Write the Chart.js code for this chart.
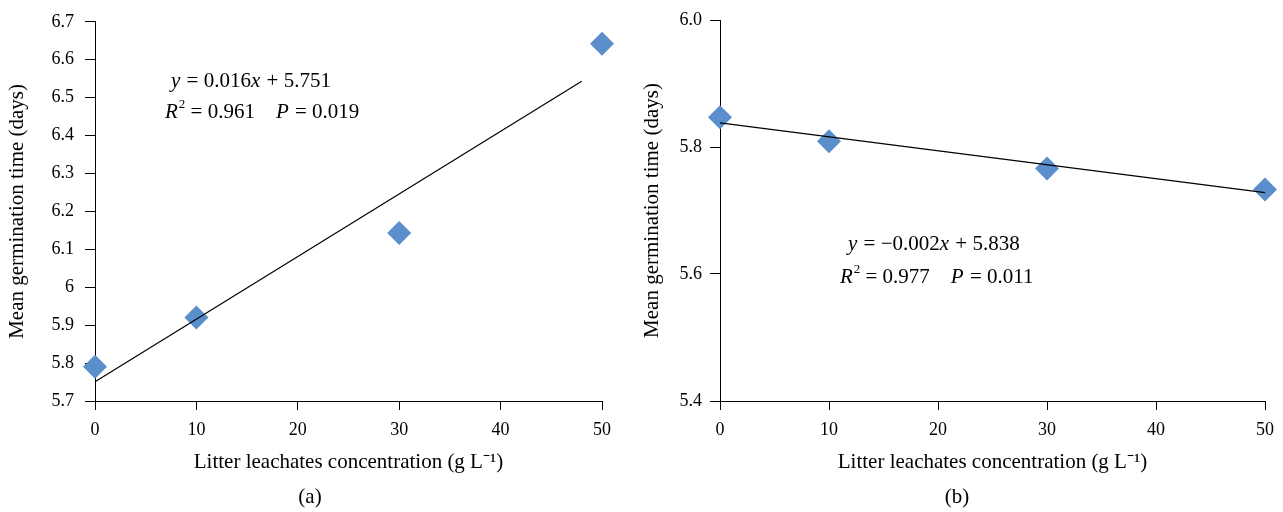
<!DOCTYPE html>
<html><head><meta charset="utf-8">
<script src="https://cdn.jsdelivr.net/npm/chart.js@4"></script>
<style>
html,body{margin:0;padding:0;background:#fff;width:1283px;height:512px;overflow:hidden}
#wa{position:absolute;left:0;top:0;width:640px;height:512px}
#wb{position:absolute;left:640px;top:0;width:643px;height:512px}
</style></head><body>
<div id="wa"><canvas id="ca" width="640" height="512"></canvas></div>
<div id="wb"><canvas id="cb" width="643" height="512"></canvas></div>
<script>
// ---- data ----
const concentrations = [0, 10, 30, 50];
const mgtA = [5.79, 5.92, 6.143, 6.642];
const mgtB = [5.847, 5.809, 5.766, 5.733];
const trendAx = [0, 48];
const trendAy = [5.751, 6.543];
const trendBx = [0, 50];
const trendBy = [5.838, 5.728];
const xTickLabels = ['0', '10', '20', '30', '40', '50'];
const yTickLabelsA = ['5.7', '5.8', '5.9', '6', '6.1', '6.2', '6.3', '6.4', '6.5', '6.6', '6.7'];
const yTickLabelsB = ['5.4', '5.6', '5.8', '6.0'];
const xTitle = 'Litter leachates concentration (g L\u207B\u00B9)';
const yTitle = 'Mean germination time (days)';
const eqA1 = [{t:'y', i:true}, {t:' = 0.016'}, {t:'x', i:true}, {t:' + 5.751'}];
const eqA2 = [{t:'R', i:true}, {t:'2', sup:true}, {t:' = 0.961    '}, {t:'P', i:true}, {t:' = 0.019'}];
const eqB1 = [{t:'y', i:true}, {t:' = \u22120.002'}, {t:'x', i:true}, {t:' + 5.838'}];
const eqB2 = [{t:'R', i:true}, {t:'2', sup:true}, {t:' = 0.977    '}, {t:'P', i:true}, {t:' = 0.011'}];
const captionA = '(a)';
const captionB = '(b)';

const FONT = '"Liberation Serif", "Times New Roman", serif';
const MARKER = '#5a8fcc';

const richText = {
  id: 'richText',
  afterDraw(chart, args, opts) {
    const ctx = chart.ctx, xs = chart.scales.x, ys = chart.scales.y;
    ctx.save();
    ctx.fillStyle = '#000';
    ctx.textBaseline = 'middle';
    ctx.textAlign = 'left';
    for (const line of opts.lines) {
      let x = xs.getPixelForValue(line.x);
      const y = ys.getPixelForValue(line.y);
      for (const s of line.segs) {
        const size = s.sup ? opts.size * 0.62 : opts.size;
        ctx.font = (s.i ? 'italic ' : '') + size + 'px ' + FONT;
        ctx.fillText(s.t, x, s.sup ? y - opts.size * 0.38 : y);
        x += ctx.measureText(s.t).width + (s.i ? 1 : 0);
      }
    }
    if (opts.caption) {
      ctx.font = opts.size + 'px ' + FONT;
      ctx.textAlign = 'center';
      ctx.fillText(opts.caption.text, opts.caption.x, opts.caption.y);
    }
    ctx.restore();
  }
};

function pts(xs, ys) { return xs.map((x, i) => ({x, y: ys[i]})); }

function makeChart(canvas, cfg) {
  const labelsY = cfg.yLabels;
  return new Chart(canvas, {
    type: 'scatter',
    data: {
      datasets: [
        { data: pts(cfg.tx, cfg.ty), showLine: true, borderColor: '#000', borderWidth: 1.2,
          pointRadius: 0, pointHoverRadius: 0, fill: false, clip: false },
        { data: pts(concentrations, cfg.vals), pointStyle: 'rectRot', pointRadius: 12,
          pointHoverRadius: 12, backgroundColor: MARKER, borderWidth: 0, clip: false }
      ]
    },
    options: {
      responsive: false,
      animation: false,
      events: [],
      layout: { padding: { top: 20, right: cfg.padRight, left: 0, bottom: 35 } },
      plugins: {
        legend: { display: false },
        tooltip: { enabled: false },
        richText: { size: 21, lines: cfg.lines, caption: cfg.caption }
      },
      scales: {
        x: {
          type: 'linear', min: 0, max: 50,
          afterFit: s => { s.height = 76; },
          ticks: { stepSize: 10, color: '#000', padding: 9, maxRotation: 0,
                   font: { family: FONT, size: 18 },
                   callback: (v) => xTickLabels[Math.round(v / 10)] },
          grid: { drawOnChartArea: false, drawTicks: true, tickLength: 9, color: '#000', tickColor: '#000' },
          border: { display: true, color: '#000', width: 1 },
          title: { display: true, text: xTitle, color: '#000', font: { family: FONT, size: 21 },
                   padding: { top: 0, bottom: 2 } }
        },
        y: {
          type: 'linear', min: cfg.ymin, max: cfg.ymax,
          afterFit: s => { s.width = cfg.yWidth; },
          ticks: { stepSize: cfg.ystep, color: '#000', padding: cfg.yPad,
                   font: { family: FONT, size: 18 },
                   callback: (v) => labelsY[Math.round((v - cfg.ymin) / cfg.ystep)] },
          grid: { drawOnChartArea: false, drawTicks: true, tickLength: 10, color: '#000', tickColor: '#000' },
          border: { display: true, color: '#000', width: 1 },
          title: { display: true, text: yTitle, color: '#000', font: { family: FONT, size: 21 },
                   padding: { top: cfg.yTitlePad, bottom: 0 } }
        }
      }
    },
    plugins: [richText]
  });
}

makeChart(document.getElementById('ca'), {
  vals: mgtA, tx: trendAx, ty: trendAy, yLabels: yTickLabelsA,
  ymin: 5.7, ymax: 6.7, ystep: 0.1, yWidth: 95, padRight: 38, yPad: 11, yTitlePad: 5,
  lines: [{x: 7.5, y: 6.543, segs: eqA1}, {x: 6.9, y: 6.461, segs: eqA2}],
  caption: {text: captionA, x: 310, y: 497}
});
makeChart(document.getElementById('cb'), {
  vals: mgtB, tx: trendBx, ty: trendBy, yLabels: yTickLabelsB,
  ymin: 5.4, ymax: 6.0, ystep: 0.2, yWidth: 80, padRight: 18, yPad: 8, yTitlePad: 0,
  lines: [{x: 11.74, y: 5.646, segs: eqB1}, {x: 11.0, y: 5.595, segs: eqB2}],
  caption: {text: captionB, x: 317, y: 497}
});
</script>
</body></html>
